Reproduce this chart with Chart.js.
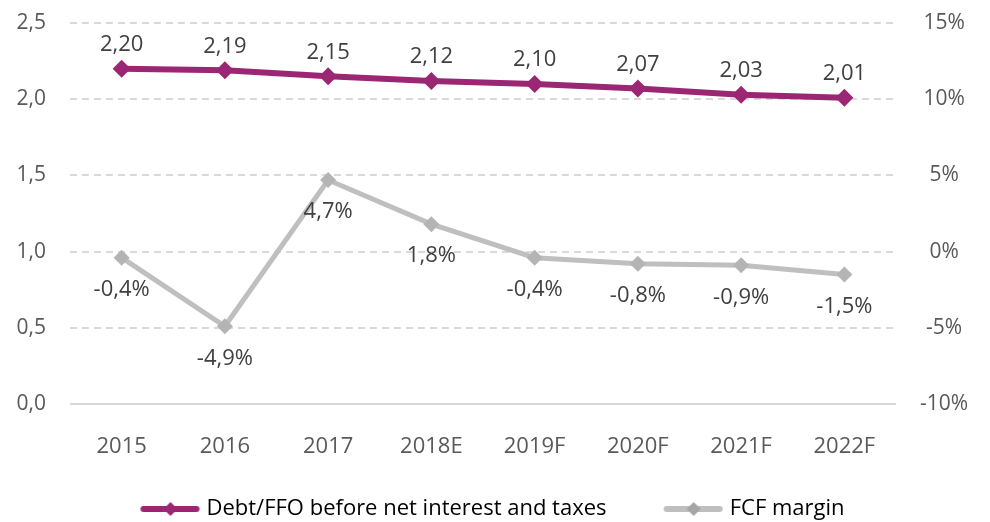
<!DOCTYPE html>
<html>
<head>
<meta charset="utf-8">
<script src="https://cdn.jsdelivr.net/npm/chart.js@4/dist/chart.umd.min.js"></script>
<style>
  html, body { margin: 0; padding: 0; background: #fff; }
  #wrap { width: 990px; height: 522px; }
</style>
</head>
<body>
<div id="wrap"><canvas id="c"></canvas></div>
<script>
// valores
const years = ["2015", "2016", "2017", "2018E", "2019F", "2020F", "2021F", "2022F"];
const debtFfo = [2.20, 2.19, 2.15, 2.12, 2.10, 2.07, 2.03, 2.01];
const fcfMargin = [-0.4, -4.9, 4.7, 1.8, -0.4, -0.8, -0.9, -1.5];
const seriesNames = ["Debt/FFO before net interest and taxes", "FCF margin"];

const PURPLE = "#9B2673";
const GREY = "#BFBFBF";
const FONT = "'Open Sans', 'Noto Sans', sans-serif";

function fmt(v, dec) {
  return v.toFixed(dec).replace(".", ",");
}

// marcador de leyenda: línea con rombo
function legendMarker(color, dotColor, lw, r) {
  const cv = document.createElement("canvas");
  cv.width = 62; cv.height = 22;
  const g = cv.getContext("2d");
  g.strokeStyle = color;
  g.lineWidth = lw;
  g.lineCap = "round";
  g.beginPath(); g.moveTo(4, 11); g.lineTo(57, 11); g.stroke();
  g.fillStyle = dotColor;
  g.beginPath();
  g.moveTo(31, 11 - r); g.lineTo(31 + r, 11); g.lineTo(31, 11 + r); g.lineTo(31 - r, 11);
  g.closePath(); g.fill();
  return cv;
}

// etiquetas de datos (sin plugin externo)
const dataLabels = {
  id: "dataLabels",
  afterDatasetsDraw(chart) {
    const ctx = chart.ctx;
    ctx.save();
    ctx.font = "22px " + FONT;
    ctx.fillStyle = "#404040";
    ctx.textAlign = "center";
    ctx.textBaseline = "middle";
    chart.data.datasets.forEach((ds, i) => {
      const meta = chart.getDatasetMeta(i);
      meta.data.forEach((pt, j) => {
        const v = ds.data[j];
        if (i === 0) ctx.fillText(fmt(v, 2), pt.x, pt.y - 24);
        else ctx.fillText(fmt(v, 1) + "%", pt.x, pt.y + 32);
      });
    });
    ctx.restore();
  }
};

const gridDash = c => (c.tick && c.tick.value === 0) ? [] : [7, 5];

// ancho fijo del eje y sin el relleno extra arriba/abajo
function fixAxis(w) {
  return s => { s.width = w; s.paddingTop = 0; s.paddingBottom = 0; };
}

new Chart(document.getElementById("c"), {
  type: "line",
  data: {
    labels: years,
    datasets: [
      {
        label: seriesNames[0],
        data: debtFfo,
        yAxisID: "y",
        borderColor: PURPLE,
        backgroundColor: PURPLE,
        borderWidth: 6,
        pointStyle: "rectRot",
        pointRadius: 9,
        pointBorderWidth: 0,
        tension: 0
      },
      {
        label: seriesNames[1],
        data: fcfMargin,
        yAxisID: "y1",
        borderColor: GREY,
        backgroundColor: "#B4B4B4",
        borderWidth: 5,
        pointStyle: "rectRot",
        pointRadius: 8,
        pointBorderWidth: 0,
        tension: 0
      }
    ]
  },
  options: {
    responsive: true,
    maintainAspectRatio: false,
    animation: false,
    layout: { padding: { top: 23, left: 0, right: 0, bottom: -8 } },
    plugins: {
      tooltip: { enabled: false },
      legend: {
        position: "bottom",
        labels: {
          color: "#595959",
          font: { family: FONT, size: 22 },
          usePointStyle: true,
          pointStyleWidth: 50,
          padding: 5,
          generateLabels(chart) {
            return [
              { text: seriesNames[0] + "          ", pointStyle: legendMarker(PURPLE, PURPLE, 6, 7), fillStyle: PURPLE, strokeStyle: PURPLE, lineWidth: 0, datasetIndex: 0 },
              { text: seriesNames[1], pointStyle: legendMarker(GREY, "#A6A6A6", 6, 7), fillStyle: GREY, strokeStyle: GREY, lineWidth: 0, datasetIndex: 1 }
            ];
          }
        }
      }
    },
    scales: {
      x: {
        offset: true,
        grid: { display: false, offset: true },
        border: { display: false },
        ticks: { color: "#595959", font: { family: FONT, size: 22 }, padding: 22 },
        afterFit(s) { s.height = 89; }
      },
      y: {
        position: "left",
        min: 0, max: 2.5,
        grid: { color: "#D9D9D9", lineWidth: 2, drawTicks: false },
        border: { display: false, dash: gridDash },
        ticks: {
          stepSize: 0.5,
          padding: 24,
          color: "#595959",
          font: { family: FONT, size: 21 },
          callback: v => fmt(v, 1)
        },
        afterFit: fixAxis(70)
      },
      y1: {
        position: "right",
        min: -10, max: 15,
        grid: { display: false, drawTicks: false },
        border: { display: false },
        ticks: {
          stepSize: 5,
          padding: 24,
          color: "#595959",
          crossAlign: "center",
          font: { family: FONT, size: 21 },
          callback: v => v + "%"
        },
        afterFit: fixAxis(94)
      }
    }
  },
  plugins: [dataLabels]
});
</script>
</body>
</html>
